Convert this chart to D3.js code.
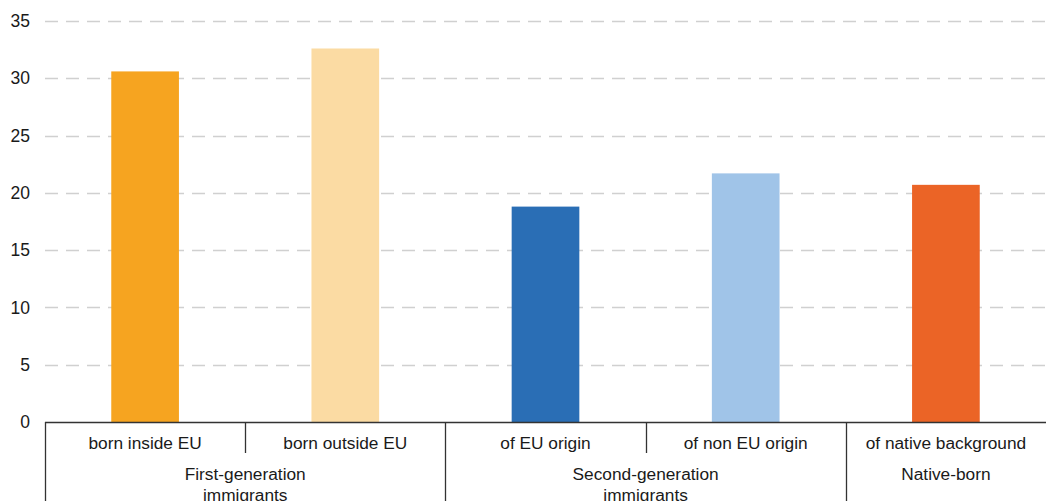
<!DOCTYPE html>
<html><head><meta charset="utf-8">
<script src="https://cdn.jsdelivr.net/npm/d3@7"></script>
<style>body{margin:0;background:#fff}svg text{font-family:"Liberation Sans",Arial,sans-serif;fill:#1a1a1a}</style>
</head><body><svg id="c" width="1046" height="501"></svg>
<script>
const categories = ["born inside EU","born outside EU","of EU origin","of non EU origin","of native background"];
const values = [30.6, 32.6, 18.8, 21.7, 20.7];
const colors = ["#F6A420","#FBDBA3","#2A6EB5","#A0C4E8","#EB6426"];
const groups = [["First-generation","immigrants"],["Second-generation","immigrants"],["Native-born"]];
const groupSpans = [2, 2, 1];
const yTicks = [0,5,10,15,20,25,30,35];

const svg = d3.select("#c");
const mLeft = 45, mRight = 1046, mTop = 21, mBottom = 422;
const fs = 17.3;
const x = d3.scaleBand().domain(categories).range([mLeft, mLeft + 1001]).paddingInner(0).paddingOuter(0);
const y = d3.scaleLinear().domain([0,35]).range([mBottom, mTop]);

// gridlines
svg.append("g").selectAll("line").data(yTicks.filter(d=>d>0)).join("line")
  .attr("x1", mLeft).attr("x2", mRight)
  .attr("y1", d=>Math.round(y(d))+0.5).attr("y2", d=>Math.round(y(d))+0.5)
  .attr("stroke","#d0d0d0").attr("stroke-width",1.5).attr("stroke-dasharray","13,8");

// y axis labels
const yAxis = d3.axisLeft(y).tickValues(yTicks).tickSize(0).tickPadding(0);
const ga = svg.append("g").attr("transform",`translate(30,0)`).call(yAxis);
ga.select(".domain").remove();
ga.selectAll("text").attr("font-size",17.5).attr("fill","#1a1a1a").style("font-family","'Liberation Sans',Arial,sans-serif");

// bars
const bw = x.bandwidth()*0.338;
svg.append("g").selectAll("rect").data(values).join("rect")
  .attr("x",(d,i)=>x(categories[i]) + x.bandwidth()/2 - bw/2)
  .attr("width", bw)
  .attr("y", d=>y(d)).attr("height", d=>mBottom - y(d))
  .attr("fill",(d,i)=>colors[i]);

// x axis line
svg.append("line").attr("x1",mLeft).attr("x2",mRight).attr("y1",mBottom+0.5).attr("y2",mBottom+0.5)
  .attr("stroke","#333").attr("stroke-width",1.3);

// category labels
svg.append("g").selectAll("text").data(categories).join("text")
  .attr("x", d=>x(d)+x.bandwidth()/2).attr("y", 449)
  .attr("text-anchor","middle").attr("font-size",fs).text(d=>d);

// separators
let idx = 0;
const boundaries = [];
groupSpans.forEach((s,gi)=>{ boundaries.push({pos: idx, full:true}); for(let k=1;k<s;k++) boundaries.push({pos: idx+k, full:false}); idx += s; });
svg.append("g").selectAll("line").data(boundaries).join("line")
  .attr("x1", d=>Math.round(x(categories[d.pos]))+0.5).attr("x2", d=>Math.round(x(categories[d.pos]))+0.5)
  .attr("y1", mBottom).attr("y2", d=> d.full ? 501 : 453)
  .attr("stroke","#333").attr("stroke-width",1.3);

// group labels
idx = 0;
groups.forEach((g,gi)=>{
  const s = groupSpans[gi];
  const x0 = x(categories[idx]), x1 = x(categories[idx+s-1]) + x.bandwidth();
  const t = svg.append("text").attr("x",(x0+x1)/2).attr("y",480).attr("text-anchor","middle").attr("font-size",fs);
  g.forEach((line,li)=> t.append("tspan").attr("x",(x0+x1)/2).attr("dy", li===0?0:21).text(line));
  idx += s;
});
</script></body></html>
